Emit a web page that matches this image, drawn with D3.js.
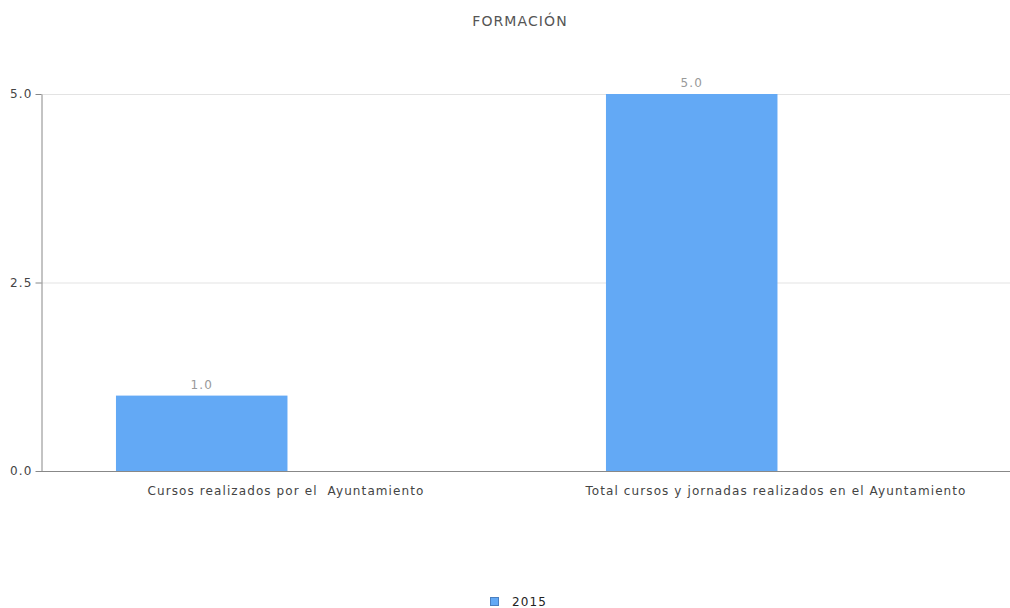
<!DOCTYPE html>
<html>
<head>
  <meta charset="utf-8">
  <title>Formación</title>
  <script src="https://cdn.jsdelivr.net/npm/d3@7"></script>
  <style>
    body { margin: 0; background: #fff; }
    svg text { font-family: 'DejaVu Sans', sans-serif; letter-spacing: 1.1px; }
  </style>
</head>
<body>
  <div id="chart"></div>
  <script>
    // data
    var categories = ["Cursos realizados por el  Ayuntamiento", "Total cursos y jornadas realizados en el Ayuntamiento"];
    var values2015 = [1.0, 5.0];
    var seriesNames = ["2015"];
    var yTicks = [0, 2.5, 5];

    var width = 1010, height = 608;
    var margin = {top: 94, right: -11, bottom: 137, left: 41};

    var svg = d3.select("#chart").append("svg")
      .attr("width", width)
      .attr("height", height);

    var x = d3.scaleBand()
      .domain(categories)
      .range([margin.left, width - margin.right]);

    var y = d3.scaleLinear()
      .domain([0, 5])
      .range([height - margin.bottom, margin.top]);

    // grid lines
    svg.append("g")
      .selectAll("line")
      .data(yTicks.filter(function(d) { return d > 0; }))
      .enter().append("line")
        .attr("x1", margin.left)
        .attr("x2", width)
        .attr("y1", function(d) { return y(d) + 0.5; })
        .attr("y2", function(d) { return y(d) + 0.5; })
        .attr("stroke", "#e3e3e3");

    // bars (only one series, drawn in the left part of each group)
    var bw = x.bandwidth();
    svg.append("g")
      .selectAll("rect")
      .data(values2015)
      .enter().append("rect")
        .attr("x", function(d, i) { return x(categories[i]) + bw * 0.153; })
        .attr("width", bw * 0.35)
        .attr("y", function(d) { return y(d); })
        .attr("height", function(d) { return y(0) - y(d); })
        .attr("fill", "#63a9f5");

    // value labels
    svg.append("g")
      .selectAll("text")
      .data(values2015)
      .enter().append("text")
        .attr("x", function(d, i) { return x(categories[i]) + bw * 0.328; })
        .attr("y", function(d) { return y(d) - 7; })
        .attr("text-anchor", "middle")
        .attr("font-size", 12)
        .attr("fill", "#999")
        .text(function(d) { return d.toFixed(1); });

    // y axis
    var yAxis = svg.append("g")
      .attr("transform", "translate(" + (margin.left + 0.5) + ",0)")
      .call(d3.axisLeft(y).tickValues(yTicks).tickFormat(d3.format(".1f")).tickSize(6).tickSizeOuter(0));
    yAxis.select(".domain").attr("stroke", "#888");
    yAxis.selectAll(".tick line").attr("stroke", "#888");
    yAxis.selectAll(".tick text").attr("fill", "#444").attr("font-size", 12)
      .attr("font-family", "'DejaVu Sans', sans-serif");

    // x axis line
    svg.append("line")
      .attr("x1", margin.left)
      .attr("x2", width)
      .attr("y1", y(0) + 0.5)
      .attr("y2", y(0) + 0.5)
      .attr("stroke", "#888");

    // category labels
    svg.append("g")
      .selectAll("text")
      .data(categories)
      .enter().append("text")
        .attr("x", function(d) { return x(d) + bw / 2; })
        .attr("y", y(0) + 24)
        .attr("text-anchor", "middle")
        .attr("font-size", 12)
        .attr("fill", "#444")
        .attr("xml:space", "preserve")
        .style("white-space", "pre")
        .text(function(d) { return d; });

    // title
    svg.append("text")
      .attr("x", 520)
      .attr("y", 26)
      .attr("text-anchor", "middle")
      .attr("font-size", 14)
      .attr("fill", "#555")
      .text("FORMACIÓN");

    // legend
    var legend = svg.append("g").attr("transform", "translate(490,597)");
    legend.append("rect")
      .attr("x", 0.5).attr("y", 0.5)
      .attr("width", 8).attr("height", 8)
      .attr("fill", "#63a9f5")
      .attr("stroke", "#4a7fc0");
    legend.append("text")
      .attr("x", 22)
      .attr("y", 9)
      .attr("font-size", 12)
      .attr("fill", "#222")
      .text(seriesNames[0]);
  </script>
</body>
</html>
